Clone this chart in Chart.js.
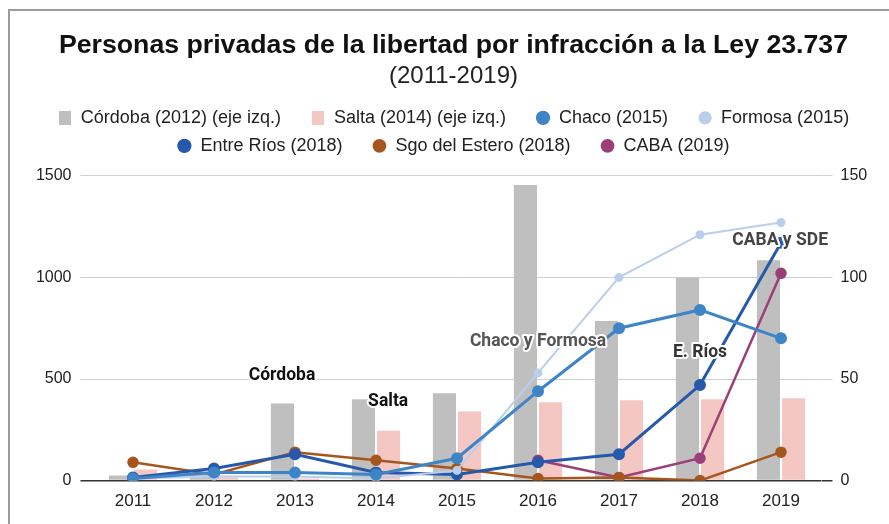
<!DOCTYPE html>
<html>
<head>
<meta charset="utf-8">
<script src="https://cdn.jsdelivr.net/npm/chart.js@4"></script>
<style>
    body { margin: 0; background: #fff; }
    #wrap { position: relative; width: 889px; height: 524px; overflow: hidden; }
    #frame { position: absolute; left: 8px; top: 9px; width: 900px; height: 600px;
             border-left: 2px solid #9c9c9c; border-top: 2px solid #9c9c9c; }
    canvas { position: absolute; left: 0; top: 0; }
</style>
</head>
<body>
<div id="wrap">
    <div id="frame"></div>
    <canvas id="chart" width="889" height="524"></canvas>
</div>
<script>
// datos
const years = ['2011', '2012', '2013', '2014', '2015', '2016', '2017', '2018', '2019'];
const cordoba = [25, 30, 380, 400, 430, 1455, 785, 1000, 1085];
const salta = [55, 15, 10, 245, 340, 385, 395, 400, 405];
const chaco = [1, 4, 4, 3, 11, 44, 75, 84, 70];
const formosa = [1, 2, 2, 1, 5, 53, 100, 121, 127];
const entreRios = [1.5, 6, 13, 4, 3, 9, 13, 47, 117];
const sgoEstero = [9, 3, 14, 10, 6, 1, 1.5, 0, 14];
const caba = [null, null, null, null, null, 10, 1.5, 11, 102];
const leftTicks = [0, 500, 1000, 1500];
const rightTicks = [0, 50, 100, 150];

const notes = [
    { text: 'Córdoba', at: 1.84, value: 516, color: '#111' },
    { text: 'Salta', at: 3.15, value: 388, color: '#111' },
    { text: 'Chaco y Formosa', at: 5.0, value: 683, color: '#555' },
    { text: 'E. Ríos', at: 7.0, value: 629, color: '#333' },
    { text: 'CABA y SDE', at: 7.99, value: 1180, color: '#444' }
];

// el eje queda un poco más alto que 1500 para dejar aire bajo la leyenda
const leftMax = 1554;
const rightMax = 155.4;

const notesPlugin = {
    id: 'notes',
    afterDatasetsDraw(chart) {
        const { ctx, scales } = chart;
        notes.forEach(function (n) {
            const px = scales.x.getPixelForValue(n.at);
            const py = scales.y.getPixelForValue(n.value);
            ctx.save();
            ctx.font = 'bold 17.5px Roboto, "Liberation Sans", sans-serif';
            ctx.textAlign = 'center';
            ctx.textBaseline = 'middle';
            ctx.strokeStyle = '#fff';
            ctx.lineWidth = 4;
            ctx.lineJoin = 'round';
            ctx.strokeText(n.text, px, py);
            ctx.fillStyle = n.color;
            ctx.fillText(n.text, px, py);
            ctx.restore();
        });
    }
};

// marcador rectangular de la leyenda para las barras
function rectMarker(color) {
    const c = document.createElement('canvas');
    c.width = 12;
    c.height = 14;
    const g = c.getContext('2d');
    g.fillStyle = color;
    g.fillRect(0, 0, 12, 14);
    return c;
}

function lineSet(label, data, color, width, radius) {
    return {
        type: 'line',
        label: label,
        data: data,
        yAxisID: 'y1',
        borderColor: color,
        backgroundColor: color,
        borderWidth: width,
        pointRadius: radius,
        pointHoverRadius: radius,
        pointStyle: 'circle',
        tension: 0,
        spanGaps: false,
        order: 1
    };
}

const font = '"Liberation Sans", Arial, sans-serif';
const ctx = document.getElementById('chart').getContext('2d');

new Chart(ctx, {
    type: 'bar',
    data: {
        labels: years,
        datasets: [
            {
                label: 'Córdoba (2012) (eje izq.)',
                data: cordoba,
                yAxisID: 'y',
                backgroundColor: '#bfbfbf',
                pointStyle: rectMarker('#bfbfbf'),
                categoryPercentage: 0.62,
                barPercentage: 0.92,
                order: 2
            },
            {
                label: 'Salta (2014) (eje izq.)',
                data: salta,
                yAxisID: 'y',
                backgroundColor: '#f4c7c3',
                pointStyle: rectMarker('#f4c7c3'),
                categoryPercentage: 0.62,
                barPercentage: 0.92,
                order: 2
            },
            lineSet('Chaco (2015)', chaco, '#3d85c6', 3, 4.5),
            lineSet('Formosa (2015)', formosa, '#b9cfec', 2, 3.5),
            lineSet('Entre Ríos (2018)', entreRios, '#2659ab', 3, 4.5),
            lineSet('Sgo del Estero (2018)', sgoEstero, '#a6561d', 2.5, 4.5),
            lineSet('CABA (2019)', caba, '#9c3f78', 2.5, 4.5)
        ]
    },
    options: {
        responsive: false,
        animation: false,
        layout: { padding: { left: 18, right: 0, top: 0, bottom: 1 } },
        plugins: {
            title: {
                display: true,
                text: 'Personas privadas de la libertad por infracción a la Ley 23.737',
                color: '#111',
                font: { family: font, size: 26.7, weight: 'bold' },
                padding: { top: 30, bottom: 0 }
            },
            subtitle: {
                display: true,
                text: '(2011-2019)',
                color: '#222',
                font: { family: font, size: 24 },
                padding: { top: 0, bottom: 8 }
            },
            legend: {
                position: 'top',
                labels: {
                    usePointStyle: true,
                    boxWidth: 14,
                    boxHeight: 8,
                    padding: 10,
                    color: '#222',
                    font: { family: font, size: 18 },
                    generateLabels: function (chart) {
                        const items = Chart.defaults.plugins.legend.labels.generateLabels(chart);
                        // más aire entre elementos de la misma fila
                        items.forEach(function (it) {
                            if (it.datasetIndex !== 3 && it.datasetIndex !== 6) it.text += '    ';
                        });
                        return items;
                    },
                    sort: (a, b) => a.datasetIndex - b.datasetIndex
                }
            },
            tooltip: { enabled: false }
        },
        scales: {
            x: {
                grid: { display: false, drawTicks: false },
                border: { display: false },
                ticks: {
                    padding: 11,
                    color: '#222',
                    font: { family: font, size: 17 }
                }
            },
            y: {
                position: 'left',
                min: 0,
                max: leftMax,
                afterBuildTicks: function (scale) {
                    scale.ticks = leftTicks.map(v => ({ value: v }));
                },
                afterFit: function (scale) { scale.width = 74.5; },
                grid: {
                    color: c => c.tick && c.tick.value === 0 ? '#333' : '#d0d0d0',
                    lineWidth: c => c.tick && c.tick.value === 0 ? 1.5 : 1,
                    tickLength: 12
                },
                border: { display: false },
                ticks: {
                    padding: 9,
                    color: '#222',
                    font: { family: font, size: 16 },
                    callback: v => String(v)
                }
            },
            y1: {
                position: 'right',
                min: 0,
                max: rightMax,
                afterBuildTicks: function (scale) {
                    scale.ticks = rightTicks.map(v => ({ value: v }));
                },
                afterFit: function (scale) { scale.width = 67.5; },
                grid: {
                    drawOnChartArea: false,
                    color: c => c.tick && c.tick.value === 0 ? '#333' : '#d0d0d0',
                    lineWidth: c => c.tick && c.tick.value === 0 ? 1.5 : 1,
                    tickLength: 11
                },
                border: { display: false },
                ticks: {
                    padding: 8,
                    color: '#222',
                    font: { family: font, size: 16 },
                    callback: v => String(v)
                }
            }
        }
    },
    plugins: [notesPlugin]
});
</script>
</body>
</html>
